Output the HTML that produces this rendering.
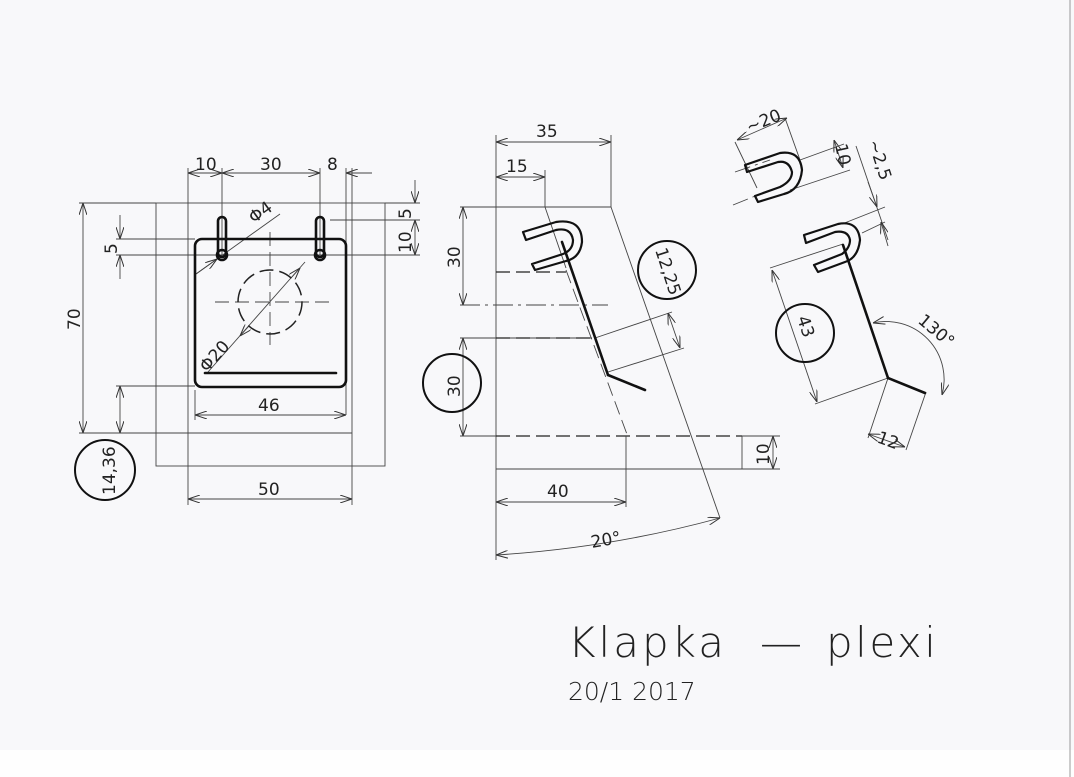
<!DOCTYPE html>
<html><head><meta charset="utf-8"><style>
html,body{margin:0;padding:0;background:#fff}
svg{display:block}
text{font-family:"DejaVu Sans","Liberation Sans",sans-serif;fill:#222}
</style></head><body>
<svg width="1074" height="777" viewBox="0 0 1074 777" xmlns="http://www.w3.org/2000/svg">
<defs>
<marker id="a" viewBox="0 0 12 8" refX="12" refY="4" markerWidth="12" markerHeight="8" orient="auto-start-reverse" markerUnits="userSpaceOnUse">
<path d="M0,0 L12,4 L0,8" fill="none" stroke="#333" stroke-width="1"/>
</marker>
</defs>
<rect x="0" y="0" width="1074" height="750" fill="#f8f8fa"/>
<rect x="0" y="750" width="1074" height="27" fill="#fefefe"/>
<line x1="1070" y1="0" x2="1070" y2="777" stroke="#999" stroke-width="1"/>

<g stroke="#444" stroke-width="0.9" fill="none">
<rect x="156" y="203" width="229" height="263"/>
<line x1="188" y1="168" x2="188" y2="505"/>
<line x1="352" y1="168" x2="352" y2="505"/>
<line x1="79" y1="433" x2="352" y2="433"/>
<line x1="79" y1="203" x2="156" y2="203"/>
<line x1="222" y1="168" x2="222" y2="255"/>
<line x1="320" y1="168" x2="320" y2="255"/>
<line x1="346" y1="168" x2="346" y2="415"/>
<line x1="195" y1="390" x2="195" y2="420"/>
<line x1="188" y1="173" x2="222" y2="173" marker-start="url(#a)" marker-end="url(#a)"/>
<line x1="222" y1="173" x2="320" y2="173" marker-start="url(#a)" marker-end="url(#a)"/>
<line x1="346" y1="173" x2="372" y2="173" marker-start="url(#a)"/>
<line x1="195" y1="415" x2="346" y2="415" marker-start="url(#a)" marker-end="url(#a)"/>
<line x1="188" y1="499" x2="352" y2="499" marker-start="url(#a)" marker-end="url(#a)"/>
<line x1="83" y1="203" x2="83" y2="433" marker-start="url(#a)" marker-end="url(#a)"/>
<line x1="116" y1="239" x2="195" y2="239"/>
<line x1="116" y1="255" x2="340" y2="255"/>
<line x1="120" y1="215" x2="120" y2="239" marker-end="url(#a)"/>
<line x1="120" y1="279" x2="120" y2="255" marker-end="url(#a)"/>
<line x1="116" y1="386" x2="195" y2="386"/>
<line x1="120" y1="386" x2="120" y2="433" marker-start="url(#a)" marker-end="url(#a)"/>
<line x1="385" y1="203" x2="420" y2="203"/>
<line x1="330" y1="220" x2="420" y2="220"/>
<line x1="340" y1="255" x2="420" y2="255"/>
<line x1="415" y1="180" x2="415" y2="203" marker-end="url(#a)"/>
<line x1="415" y1="220" x2="415" y2="255" marker-start="url(#a)" marker-end="url(#a)"/>
<line x1="196" y1="274" x2="280" y2="214"/>
<line x1="196" y1="274" x2="217" y2="259" marker-end="url(#a)"/>
<line x1="208" y1="372" x2="305" y2="262"/>
<line x1="240" y1="336" x2="249" y2="326" marker-start="url(#a)"/>
<line x1="300" y1="268" x2="292" y2="277" marker-start="url(#a)"/>
<line x1="270" y1="232" x2="270" y2="345" stroke-dasharray="14,6"/>
<line x1="215" y1="302" x2="330" y2="302" stroke-dasharray="14,6"/>
<circle cx="270" cy="302" r="32" stroke="#222" stroke-width="1.5" stroke-dasharray="14,6"/>

<line x1="496" y1="135" x2="496" y2="560"/>
<line x1="611" y1="135" x2="611" y2="207"/>
<line x1="545" y1="170" x2="545" y2="207"/>
<line x1="496" y1="142" x2="611" y2="142" marker-start="url(#a)" marker-end="url(#a)"/>
<line x1="496" y1="177" x2="545" y2="177" marker-start="url(#a)" marker-end="url(#a)"/>
<line x1="460" y1="207" x2="611" y2="207"/>
<line x1="611" y1="207" x2="720" y2="518"/>
<line x1="545" y1="207" x2="566" y2="268"/>
<line x1="566" y1="270" x2="628" y2="437" stroke-dasharray="14,6"/>
<line x1="496" y1="272" x2="566" y2="272" stroke="#222" stroke-width="1.3" stroke-dasharray="14,6"/>
<line x1="460" y1="305" x2="608" y2="305" stroke-dasharray="20,5,3,5"/>
<line x1="460" y1="338" x2="592" y2="338"/>
<line x1="496" y1="338" x2="592" y2="338" stroke="#222" stroke-width="1.3" stroke-dasharray="14,6"/>
<line x1="460" y1="436" x2="496" y2="436"/>
<line x1="496" y1="436" x2="742" y2="436" stroke="#222" stroke-width="1.2" stroke-dasharray="14,6"/>
<line x1="496" y1="469" x2="742" y2="469"/>
<line x1="742" y1="436" x2="742" y2="469"/>
<line x1="742" y1="436" x2="780" y2="436"/>
<line x1="742" y1="469" x2="780" y2="469"/>
<line x1="773" y1="436" x2="773" y2="469" marker-start="url(#a)" marker-end="url(#a)"/>
<line x1="626" y1="436" x2="626" y2="507"/>
<line x1="496" y1="502" x2="626" y2="502" marker-start="url(#a)" marker-end="url(#a)"/>
<line x1="463" y1="207" x2="463" y2="305" marker-start="url(#a)" marker-end="url(#a)"/>
<line x1="463" y1="338" x2="463" y2="436" marker-start="url(#a)" marker-end="url(#a)"/>
<path d="M496,555 Q610,548 720,518" marker-start="url(#a)" marker-end="url(#a)"/>
<line x1="595" y1="338" x2="672" y2="312"/>
<line x1="608" y1="372" x2="684" y2="348"/>
<line x1="668" y1="313" x2="680" y2="348" marker-start="url(#a)" marker-end="url(#a)"/>

<line x1="735" y1="142" x2="757" y2="188"/>
<line x1="785" y1="118" x2="800" y2="160"/>
<line x1="737" y1="140" x2="787" y2="118" marker-start="url(#a)" marker-end="url(#a)"/>
<line x1="733" y1="205" x2="770" y2="190" stroke-dasharray="16,5,3,5"/>
<line x1="735" y1="172" x2="770" y2="160" stroke-dasharray="16,5,3,5"/>
<line x1="800" y1="160" x2="844" y2="144"/>
<line x1="790" y1="190" x2="850" y2="170"/>
<line x1="834" y1="140" x2="843" y2="168" marker-start="url(#a)" marker-end="url(#a)"/>
<line x1="856" y1="146" x2="888" y2="240"/>
<line x1="842" y1="224" x2="885" y2="207"/>
<line x1="862" y1="233" x2="885" y2="222"/>
<line x1="868" y1="182" x2="877" y2="207" marker-end="url(#a)"/>
<line x1="888" y1="246" x2="881" y2="222" marker-end="url(#a)"/>
<line x1="770" y1="268" x2="843" y2="244"/>
<line x1="815" y1="404" x2="888" y2="378"/>
<line x1="772" y1="270" x2="817" y2="402" marker-start="url(#a)" marker-end="url(#a)"/>
<path d="M873,323 A58,58 0 0 1 942,395" marker-start="url(#a)" marker-end="url(#a)"/>
<line x1="888" y1="378" x2="868" y2="438"/>
<line x1="926" y1="392" x2="906" y2="450"/>
<line x1="868" y1="434" x2="905" y2="447" marker-start="url(#a)" marker-end="url(#a)"/>
</g>

<g stroke="#111" stroke-width="2.6" fill="none" stroke-linejoin="round" stroke-linecap="round">
<rect x="195" y="239" width="151" height="148" rx="7"/>
<line x1="205" y1="373" x2="336" y2="373"/>
<rect x="218" y="217" width="8" height="40" rx="4"/>
<circle cx="222" cy="255" r="5"/>
<rect x="316" y="217" width="8" height="40" rx="4"/>
<circle cx="320" cy="255" r="5"/>
<circle cx="105" cy="470" r="30" stroke-width="2"/>
<circle cx="452" cy="383" r="29" stroke-width="2"/>
<circle cx="667" cy="270" r="29" stroke-width="2"/>
<circle cx="805" cy="333" r="29" stroke-width="2"/>
<path d="M523,232 L556,222 Q582,218 582,242 Q580,258 566,261 L535,270 L532,264 L563,254 Q573,250 573,240 Q571,227 556,230 L526,240 Z" stroke-width="2.2"/>
<line x1="562" y1="242" x2="608" y2="375"/>
<line x1="608" y1="375" x2="645" y2="390"/>
<path d="M745,165 L780,153 Q800,150 802,170 Q800,190 784,194 L758,202 L755,196 L780,187 Q792,181 792,172 Q789,160 778,162 L747,172 Z" stroke-width="2.2"/>
<path d="M804,235 L838,224 Q858,220 860,240 Q858,258 845,262 L818,272 L814,265 L842,254 Q850,248 850,240 Q848,230 835,232 L806,243 Z" stroke-width="2.2"/>
<line x1="843" y1="245" x2="888" y2="378"/>
<line x1="888" y1="378" x2="925" y2="393"/>
</g>

<g font-size="17">
<text x="195" y="170">10</text>
<text x="260" y="170">30</text>
<text x="327" y="170">8</text>
<text x="258" y="411">46</text>
<text x="258" y="495">50</text>
<text transform="translate(80,330) rotate(-90)">70</text>
<text transform="translate(117,254) rotate(-90)">5</text>
<text transform="translate(115,495) rotate(-90)">14,36</text>
<text transform="translate(411,219) rotate(-90)">5</text>
<text transform="translate(411,253) rotate(-90)">10</text>
<text transform="translate(254,224) rotate(-36)">Φ4</text>
<text transform="translate(207,373) rotate(-48)">Φ20</text>
<text x="536" y="137">35</text>
<text x="506" y="172">15</text>
<text transform="translate(460,268) rotate(-90)">30</text>
<text transform="translate(460,397) rotate(-90)">30</text>
<text x="547" y="497">40</text>
<text transform="translate(769,465) rotate(-90)">10</text>
<text transform="translate(592,548) rotate(-10)">20°</text>
<text transform="translate(655,250) rotate(72)">12,25</text>
<text transform="translate(749,133) rotate(-22)">~20</text>
<text transform="translate(835,145) rotate(78)">10</text>
<text transform="translate(868,142) rotate(72)">~2,5</text>
<text transform="translate(797,318) rotate(72)">43</text>
<text transform="translate(917,322) rotate(40)">130°</text>
<text transform="translate(876,442) rotate(20)">12</text>
</g>
<g font-family="Liberation Sans" style="font-weight:300">
<text x="568" y="657" font-size="42" letter-spacing="3" fill="#333">Klapka</text>
<text x="760" y="657" font-size="42" fill="#333">—</text>
<text x="826" y="657" font-size="42" letter-spacing="2.5" fill="#333">plexi</text>
<text x="568" y="700" font-size="25" fill="#333">20/1 2017</text>
</g>
</svg>
</body></html>
